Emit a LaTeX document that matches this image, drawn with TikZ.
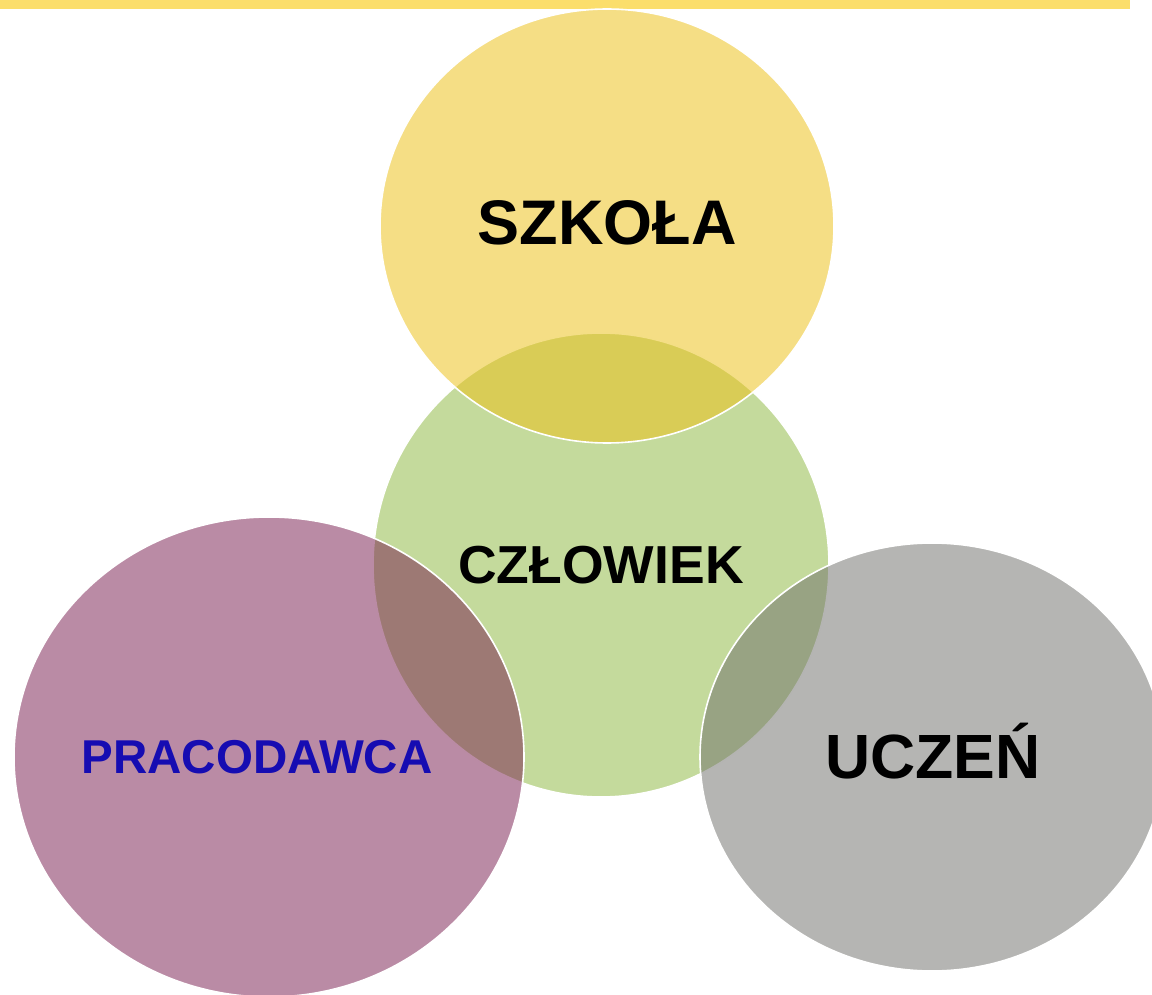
\documentclass[tikz,border=0pt]{standalone}
\usepackage{fontspec}
\setmainfont{Liberation Sans}
\usetikzlibrary{calc}
\definecolor{barYellow}{RGB}{251,222,108}
\definecolor{szkolaYellow}{RGB}{236,193,25}
\definecolor{czlowiekGreen}{RGB}{196,218,156}
\definecolor{pracodawcaPurple}{RGB}{120,28,78}
\definecolor{uczenGrey}{RGB}{113,113,109}
\definecolor{pracodawcaBlue}{RGB}{22,12,178}
\tikzset{
	bubble/.style={draw=white, line width=1.6pt, fill opacity=#1},
	bubbletext/.style={font=\bfseries\fontsize{#1}{#1}\selectfont, inner sep=0pt, anchor=base}
}

\begin{document}
\begin{tikzpicture}[x=1pt, y=-1pt]
		%%%%% START %%%%%
		\useasboundingbox (0, 0) rectangle (1152, 995);
		
		\fill[barYellow] (0, 0) rectangle (1130, 9);
		
		\draw[bubble=1, fill=czlowiekGreen] (601, 565) ellipse (228 and 232);
		\draw[bubble=0.53, fill=szkolaYellow] (607, 226) ellipse (227 and 217);
		\draw[bubble=0.51, fill=pracodawcaPurple] (269, 757) ellipse (255 and 240);
		\draw[bubble=0.52, fill=uczenGrey] (932, 757) ellipse (232 and 214);
		
		\node[bubbletext=63] (szkola) at (607, 245) {SZKOŁA};
		\node[bubbletext=53.5] (czlowiek) at (601, 583) {CZŁOWIEK};
		\node[bubbletext=47.5, text=pracodawcaBlue] (pracodawca) at (257, 773) {PRACODAWCA};
		\node[bubbletext=62.5] (uczen) at (933, 778) {UCZEŃ};
		
		%%%%% END %%%%%
	\end{tikzpicture}
\end{document}
